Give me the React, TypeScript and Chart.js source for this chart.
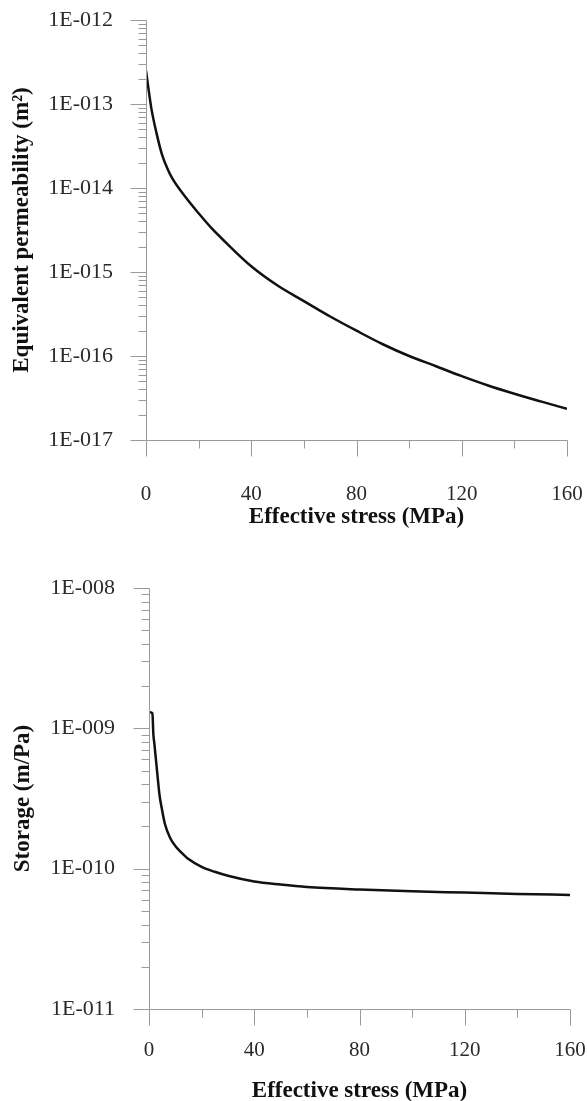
import React, { useEffect, useRef } from 'react';
import { Chart, registerables } from 'chart.js';

Chart.register(...registerables);

// ---------- Data ----------
const STRESS_PERM = [0, 2, 4, 6, 8, 10, 15, 20, 25, 30, 40, 50, 60, 70, 80, 90, 100, 110, 120, 130, 140, 150, 160];
const PERMEABILITY = [
  2.5e-13, 9.0e-14, 4.5e-14, 2.55e-14, 1.74e-14, 1.3e-14, 7.8e-15, 5.0e-15, 3.3e-15, 2.3e-15,
  1.17e-15, 6.9e-16, 4.5e-16, 2.95e-16, 2.0e-16, 1.38e-16, 1.0e-16, 7.6e-17, 5.75e-17, 4.45e-17,
  3.55e-17, 2.88e-17, 2.35e-17,
];

const STRESS_STOR = [0.4, 1.3, 1.65, 2, 3, 4, 5, 6, 8, 10, 12, 15, 20, 25, 30, 40, 50, 60, 80, 100, 120, 140, 160];
const STORAGE = [
  1.3e-9, 1.28e-9, 9.1e-10, 7.9e-10, 5.1e-10, 3.35e-10, 2.6e-10, 2.1e-10, 1.66e-10, 1.45e-10,
  1.32e-10, 1.17e-10, 1.03e-10, 9.5e-11, 8.9e-11, 8.1e-11, 7.7e-11, 7.4e-11, 7.1e-11, 6.9e-11,
  6.75e-11, 6.6e-11, 6.5e-11,
];

const PERM_TICKS = [1e-17, 1e-16, 1e-15, 1e-14, 1e-13, 1e-12];
const PERM_TICK_LABELS = ['1E-017', '1E-016', '1E-015', '1E-014', '1E-013', '1E-012'];
const STOR_TICKS = [1e-11, 1e-10, 1e-9, 1e-8];
const STOR_TICK_LABELS = ['1E-011', '1E-010', '1E-009', '1E-008'];

const X_TICKS = [0, 40, 80, 120, 160];
const X_MINOR_TICKS = [20, 60, 100, 140];
const MINOR_MULTIPLIERS = [2, 3, 4, 5, 6, 7, 8, 9];

const X_TITLE = 'Effective stress (MPa)';
const PERM_TITLE = 'Equivalent permeability (m²)';
const STOR_TITLE = 'Storage (m/Pa)';

// ---------- Styles ----------
const SERIF = "'Liberation Serif', 'Times New Roman', serif";
const AXIS_COLOR = '#9a9a9a';
const LABEL_COLOR = '#2a2a2a';

type PanelProps = {
  top: number;
  height: number;
  xs: number[];
  ys: number[];
  yTicks: number[];
  yLabels: string[];
  yTitle: string;
  padTop: number;
  padRight: number;
  yWidth: number;
  xHeight: number;
  xLabelPad: number;
  yLabelPad: number;
  yTitlePad: number;
  xTitlePad: number;
};

const axisPlugin = {
  id: 'customAxes',
  afterDraw(chart: any) {
    const ctx = chart.ctx;
    const xs = chart.scales.x;
    const ys = chart.scales.y;
    const { left, right, top, bottom } = chart.chartArea;
    const yTicks: number[] = chart.options.plugins.customAxes.yTicks;
    const L = Math.round(left) + 0.5;
    const B = Math.round(bottom) + 0.5;
    ctx.save();
    ctx.strokeStyle = AXIS_COLOR;
    ctx.lineWidth = 1;
    ctx.beginPath();
    ctx.moveTo(L, Math.round(top) + 0.5);
    ctx.lineTo(L, B);
    ctx.lineTo(Math.round(right) + 0.5, B);
    yTicks.forEach((v, i) => {
      const py = Math.round(ys.getPixelForValue(v)) + 0.5;
      ctx.moveTo(L - 16, py);
      ctx.lineTo(L, py);
      if (i < yTicks.length - 1) {
        MINOR_MULTIPLIERS.forEach((m) => {
          const p = Math.round(ys.getPixelForValue(v * m)) + 0.5;
          ctx.moveTo(L - 8, p);
          ctx.lineTo(L, p);
        });
      }
    });
    X_TICKS.forEach((v) => {
      const px = Math.round(xs.getPixelForValue(v)) + 0.5;
      ctx.moveTo(px, B);
      ctx.lineTo(px, B + 16);
    });
    X_MINOR_TICKS.forEach((v) => {
      const px = Math.round(xs.getPixelForValue(v)) + 0.5;
      ctx.moveTo(px, B);
      ctx.lineTo(px, B + 8);
    });
    ctx.stroke();
    ctx.restore();
  },
};

const zeroPadding = (s: any) => {
  s.paddingTop = 0;
  s.paddingBottom = 0;
  s.paddingLeft = 0;
  s.paddingRight = 0;
};

function Panel(props: PanelProps) {
  const ref = useRef<HTMLCanvasElement | null>(null);
  useEffect(() => {
    if (!ref.current) return;
    const data = props.xs.map((x, i) => ({ x, y: props.ys[i] }));
    const chart = new Chart(ref.current, {
      type: 'line',
      data: {
        datasets: [
          {
            data,
            borderColor: '#111',
            borderWidth: 2.5,
            pointRadius: 0,
            fill: false,
            cubicInterpolationMode: 'monotone',
          },
        ],
      },
      options: {
        animation: false,
        responsive: false,
        events: [],
        layout: { padding: { top: props.padTop, right: props.padRight, left: 0, bottom: 0 } },
        plugins: {
          legend: { display: false },
          tooltip: { enabled: false },
          customAxes: { yTicks: props.yTicks },
        } as any,
        scales: {
          x: {
            type: 'linear',
            min: 0,
            max: 160,
            grid: { display: false, drawTicks: false },
            border: { display: false },
            afterFit: (s: any) => {
              s.height = props.xHeight;
              zeroPadding(s);
            },
            afterBuildTicks: (s: any) => {
              s.ticks = X_TICKS.map((v) => ({ value: v }));
            },
            ticks: {
              autoSkip: false,
              maxRotation: 0,
              padding: props.xLabelPad,
              color: LABEL_COLOR,
              font: { family: SERIF, size: 21 },
              callback: (v: any) => String(v),
            },
            title: {
              display: true,
              text: X_TITLE,
              color: '#111',
              font: { family: SERIF, size: 23, weight: 'bold' },
              padding: { top: 0, bottom: props.xTitlePad },
            },
          },
          y: {
            type: 'logarithmic',
            min: props.yTicks[0],
            max: props.yTicks[props.yTicks.length - 1],
            grid: { display: false, drawTicks: false },
            border: { display: false },
            afterFit: (s: any) => {
              s.width = props.yWidth;
              zeroPadding(s);
            },
            afterBuildTicks: (s: any) => {
              s.ticks = props.yTicks.map((v) => ({ value: v, major: true }));
            },
            ticks: {
              autoSkip: false,
              padding: props.yLabelPad,
              color: LABEL_COLOR,
              font: { family: SERIF, size: 22 },
              callback: (v: any) => {
                const idx = props.yTicks.findIndex(
                  (t) => Math.abs(Math.log10(t) - Math.log10(Number(v))) < 1e-6
                );
                return idx >= 0 ? props.yLabels[idx] : '';
              },
            },
            title: {
              display: true,
              text: props.yTitle,
              color: '#111',
              font: { family: SERIF, size: 23, weight: 'bold' },
              padding: { top: props.yTitlePad, bottom: 0 },
            },
          },
        },
      } as any,
      plugins: [axisPlugin],
    });
    return () => chart.destroy();
  }, []);
  return (
    <canvas
      ref={ref}
      width={587}
      height={props.height}
      style={{ position: 'absolute', left: 0, top: props.top, width: 587, height: props.height, display: 'block' }}
    />
  );
}

export default function App() {
  return (
    <div style={{ position: 'absolute', left: 0, top: 0, width: 587, height: 1101, background: '#fff', overflow: 'hidden' }}>
      <Panel
        top={0}
        height={545}
        xs={STRESS_PERM}
        ys={PERMEABILITY}
        yTicks={PERM_TICKS}
        yLabels={PERM_TICK_LABELS}
        yTitle={PERM_TITLE}
        padTop={20}
        padRight={20}
        yWidth={146}
        xHeight={105}
        xLabelPad={42}
        yLabelPad={33}
        yTitlePad={8}
        xTitlePad={14}
      />
      <Panel
        top={545}
        height={556}
        xs={STRESS_STOR}
        ys={STORAGE}
        yTicks={STOR_TICKS}
        yLabels={STOR_TICK_LABELS}
        yTitle={STOR_TITLE}
        padTop={43}
        padRight={17}
        yWidth={149}
        xHeight={92}
        xLabelPad={29}
        yLabelPad={34}
        yTitlePad={9}
        xTitlePad={-4}
      />
    </div>
  );
}
